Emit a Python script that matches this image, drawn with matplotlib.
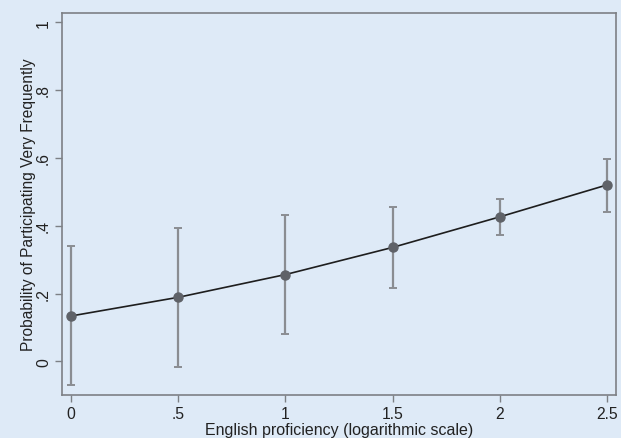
import matplotlib.pyplot as plt

# --- data ---
proficiency = [0, 0.5, 1, 1.5, 2, 2.5]
prob = [0.134, 0.189, 0.256, 0.336, 0.426, 0.520]
ci_low = [-0.070, -0.016, 0.080, 0.215, 0.373, 0.441]
ci_high = [0.339, 0.392, 0.432, 0.456, 0.479, 0.597]

xticks = [0, 0.5, 1, 1.5, 2, 2.5]
xtick_labels = ['0', '.5', '1', '1.5', '2', '2.5']
yticks = [0, 0.2, 0.4, 0.6, 0.8, 1]
ytick_labels = ['0', '.2', '.4', '.6', '.8', '1']

BG = '#deeaf7'
plt.rcParams['font.family'] = ['Liberation Sans', 'DejaVu Sans']

fig = plt.figure(figsize=(6.21, 4.39), dpi=100, facecolor=BG)
ax = fig.add_axes([62 / 621, 43 / 439, 554 / 621, 382 / 439], facecolor=BG)

yerr = [[p - lo for p, lo in zip(prob, ci_low)],
        [hi - p for p, hi in zip(prob, ci_high)]]
ax.errorbar(proficiency, prob, yerr=yerr, fmt='none', ecolor='#8a8d92',
            elinewidth=1.6, capsize=2.6, capthick=1.4, zorder=2)
ax.plot(proficiency, prob, color='#1e1e1e', lw=1.2, zorder=3)
ax.plot(proficiency, prob, 'o', color='#5f6268', ms=6.5, zorder=4)

ax.set_xlim(-0.043, 2.543)
ax.set_ylim(-0.099, 1.027)
ax.set_xticks(xticks)
ax.set_xticklabels(xtick_labels)
ax.set_yticks(yticks)
ax.set_yticklabels(ytick_labels, rotation=90, va='center')

for s in ax.spines.values():
    s.set_color('#7d8085')
    s.set_linewidth(1.2)
ax.tick_params(direction='out', length=5, width=1, color='#7d8085',
               labelsize=11.3, labelcolor='#222222', pad=3)

ax.set_xlabel('English proficiency (logarithmic scale)', fontsize=11.5,
              color='#222222', labelpad=1)
ax.set_ylabel('Probability of Participating Very Frequently', fontsize=11.2,
              color='#222222', labelpad=0)

fig.savefig('out.png', dpi=100, facecolor=BG)
